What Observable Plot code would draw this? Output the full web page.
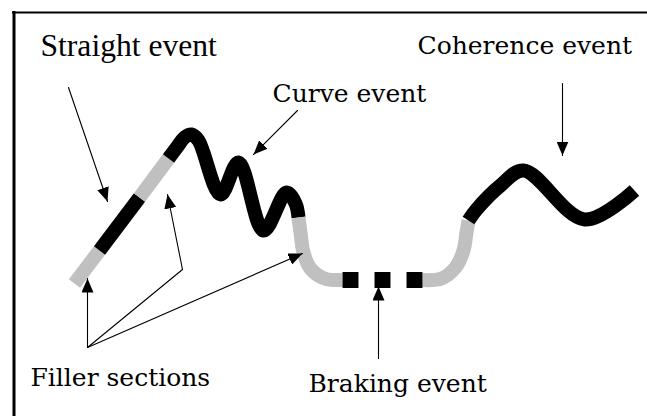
<!DOCTYPE html>
<html><head><meta charset="utf-8">
<script src="https://cdn.jsdelivr.net/npm/d3@7"></script>
<script src="https://cdn.jsdelivr.net/npm/@observablehq/plot@0.6"></script>
<style>html,body{margin:0;padding:0;background:#fff;} #chart svg{display:block;}</style>
</head><body><div id="chart"></div>
<script>
const W = 647, H = 416;

// Track sections: points [x, y] (pixel space)
const fillerA = [[74,283],[99,250]];
const straightEvent = [[99,250],[139,197]];
const fillerB = [[139,197],[168,158]];
const curveEvent = [[168,158],[177,146],[184,137],[191,134],[198,140],[220,194],[238,162],[263,230],[286,192],[295,203],[298,217]];
const fillerC = [[298,217],[300,232],[303,252],[310,268],[324,278],[342,279.5]];
const fillerD = [[422,279.5],[441,278],[455,267],[463,250],[466,232],[468,220]];
const coherenceEvent = [[468,220],[476,209],[500,185],[523,170],[584,219],[634,190]];

const sectionNames = ["fillerA","straightEvent","fillerB","curveEvent","fillerC","fillerD","coherenceEvent"];
const sectionKinds = ["filler","event","filler","event","filler","filler","event"];
const sectionPoints = [fillerA, straightEvent, fillerB, curveEvent, fillerC, fillerD, coherenceEvent];

// Braking event blocks
const brakingBlockX = [350, 382, 414];
const brakingBlockY = 279.5;

// Annotation arrows (start ... tip)
const arrowStraight = [[68,87],[107,201]];
const arrowCurve = [[297,110],[253,154]];
const arrowCoherence = [[562,83],[562,155]];
const arrowBraking = [[378,358],[378,286]];
const arrowFiller1 = [[87,347],[87,278]];
const arrowFiller2 = [[87,347],[182,269],[167,194]];
const arrowFiller3 = [[87,347],[302,253]];
const arrowList = [arrowStraight, arrowCurve, arrowCoherence, arrowBraking, arrowFiller1, arrowFiller2, arrowFiller3];

// Labels
const titleLabel = ["Straight event"];
const titleX = [40], titleY = [55];
const labels = ["Curve event","Coherence event","Filler sections","Braking event"];
const labelX = [272, 417, 30, 308];
const labelY = [101, 53, 385, 391];

// Frame
const frameLeft = 13.5, frameTop = 12;

const trackRows = sectionPoints.flatMap((pts, i) => pts.map(([x, y]) => ({section: sectionNames[i], kind: sectionKinds[i], x, y})));
const arrowRows = arrowList.flatMap((pts, i) => pts.map(([x, y]) => ({arrow: i, x, y})));
const labelRows = labels.map((t, i) => ({text: t, x: labelX[i], y: labelY[i]}));
const titleRows = titleLabel.map((t, i) => ({text: t, x: titleX[i], y: titleY[i]}));

const svg = Plot.plot({
  width: W, height: H, margin: 0,
  x: {domain: [0, W], axis: null},
  y: {domain: [H, 0], axis: null},
  color: {domain: ["filler","event"], range: ["#c0c0c0","#000000"]},
  style: {background: "#fff"},
  marks: [
    Plot.ruleX([frameLeft], {y1: frameTop - 1, y2: H, stroke: "#000", strokeWidth: 3}),
    Plot.ruleY([frameTop], {x1: frameLeft - 1.5, x2: W, stroke: "#000", strokeWidth: 2}),
    Plot.line(trackRows, {x: "x", y: "y", z: "section", stroke: "kind", strokeWidth: 14, curve: "catmull-rom", strokeLinecap: "butt", strokeLinejoin: "round"}),
    Plot.dot(brakingBlockX, {x: d => d, y: () => brakingBlockY, symbol: "square", r: 9, fill: "#000", stroke: null}),
    Plot.line(arrowRows, {x: "x", y: "y", z: "arrow", stroke: "#000", strokeWidth: 1.1, markerEnd: "arrow"}),
    Plot.text(titleRows, {x: "x", y: "y", text: "text", textAnchor: "start", lineAnchor: "bottom", fontFamily: "'Liberation Serif', 'Times New Roman', serif", fontSize: 31.6, fill: "#000"}),
    Plot.text(labelRows, {x: "x", y: "y", text: "text", textAnchor: "start", lineAnchor: "bottom", fontFamily: "'DejaVu Serif', serif", fontSize: 25, fill: "#000"})
  ]
});

// Filled triangular arrowheads
svg.querySelectorAll("marker").forEach(m => {
  m.setAttribute("viewBox", "-14 -6 14 12");
  m.setAttribute("markerWidth", "14");
  m.setAttribute("markerHeight", "12");
  m.setAttribute("markerUnits", "userSpaceOnUse");
  m.setAttribute("refX", "0");
  m.setAttribute("refY", "0");
  m.setAttribute("fill", "#000");
  m.setAttribute("stroke", "none");
  m.innerHTML = "";
  const p = document.createElementNS("http://www.w3.org/2000/svg", "path");
  p.setAttribute("d", "M-14,-6L0,0L-14,6Z");
  m.appendChild(p);
});

document.getElementById("chart").appendChild(svg);
</script>
</body></html>
